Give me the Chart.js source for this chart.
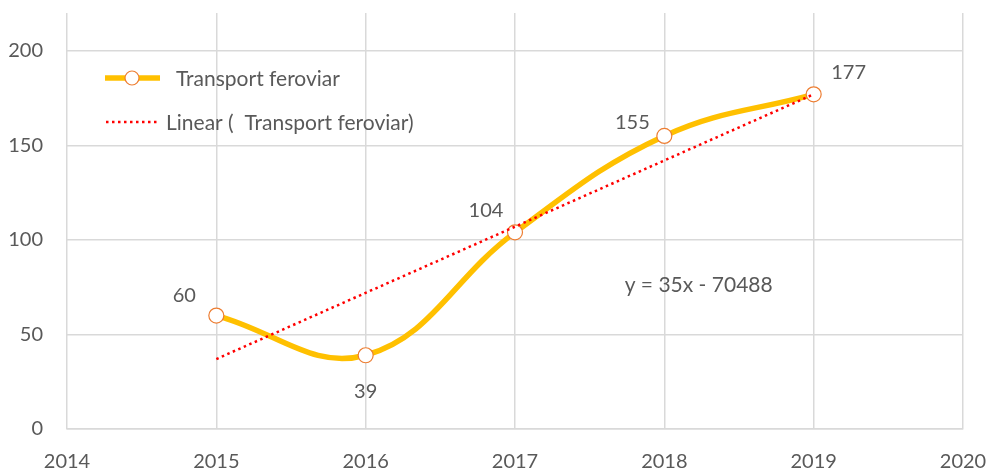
<!DOCTYPE html>
<html>
<head>
<meta charset="utf-8">
<script src="https://cdn.jsdelivr.net/npm/chart.js@4.4.0/dist/chart.umd.min.js"></script>
<style>
  html, body { margin: 0; padding: 0; background: #fff; }
  #wrap { width: 992px; height: 474px; }
</style>
</head>
<body>
<div id="wrap"><canvas id="c" width="992" height="474"></canvas></div>
<script>
const YEARS = [2015, 2016, 2017, 2018, 2019];
const VALUES = [60, 39, 104, 155, 177];
const SERIES_NAME = 'Transport feroviar';
const TREND_NAME = 'Linear (  Transport feroviar)';
const TREND_SLOPE = 35;
const TREND_INTERCEPT = -70488;
const EQUATION = 'y = 35x - 70488';
// label offsets in px from each point (Excel placed them by hand)
const LABEL_OFFSETS = [[-32, -20], [0, 36], [-29, -22], [-32, -13], [35, -22]];

const FONT = 'Lato, "Open Sans", sans-serif';
const TEXT = '#595959';
const GRID = '#d9d9d9';

const pts = YEARS.map((x, i) => ({ x, y: VALUES[i] }));
const first = YEARS[0], last = YEARS[YEARS.length - 1];
const trend = [first, last].map(x => ({ x, y: TREND_SLOPE * x + TREND_INTERCEPT }));

const extras = {
    id: 'extras',
    afterDatasetsDraw(chart) {
        const { ctx: c, scales: { x, y } } = chart;
        c.save();
        c.font = '20px ' + FONT;
        c.fillStyle = TEXT;
        c.textAlign = 'center';
        c.textBaseline = 'middle';
        pts.forEach((p, i) => {
            const [dx, dy] = LABEL_OFFSETS[i];
            c.fillText(String(p.y), x.getPixelForValue(p.x) + dx, y.getPixelForValue(p.y) + dy);
        });
        // trendline equation
        c.font = '21px ' + FONT;
        c.fillText(EQUATION, x.getPixelForValue(2018.23), y.getPixelForValue(76));

        // legend, drawn inside the plot like Excel does
        c.textAlign = 'left';
        c.lineCap = 'butt';
        c.strokeStyle = '#ffc000';
        c.lineWidth = 5.5;
        c.beginPath(); c.moveTo(105, 78); c.lineTo(160, 78); c.stroke();
        c.fillStyle = '#fff';
        c.strokeStyle = '#ed7d31';
        c.lineWidth = 1.2;
        c.beginPath(); c.arc(132, 78, 7, 0, Math.PI * 2); c.fill(); c.stroke();
        c.fillStyle = TEXT;
        c.fillText(SERIES_NAME, 176, 79);

        c.strokeStyle = '#ff0000';
        c.lineWidth = 2.5;
        c.setLineDash([2.5, 3.5]);
        c.beginPath(); c.moveTo(106, 122); c.lineTo(160, 122); c.stroke();
        c.setLineDash([]);
        c.fillText(TREND_NAME, 166, 123);
        c.restore();
    }
};

new Chart(document.getElementById('c'), {
    type: 'scatter',
    data: {
        datasets: [{
            label: TREND_NAME,
            data: trend,
            showLine: true,
            borderColor: '#ff0000',
            borderWidth: 2.5,
            borderDash: [2.5, 3.5],
            pointRadius: 0,
            order: 1,
        }, {
            label: SERIES_NAME,
            data: pts,
            showLine: true,
            borderColor: '#ffc000',
            borderWidth: 5.5,
            tension: 0.4,
            pointRadius: 7.5,
            pointBorderWidth: 1.2,
            pointBackgroundColor: '#ffffff',
            pointBorderColor: '#ed7d31',
            order: 2,
        }]
    },
    options: {
        responsive: false,
        animation: false,
        layout: { padding: { top: 13, right: 29, left: 0, bottom: 0 } },
        plugins: {
            legend: { display: false },
            tooltip: { enabled: false }
        },
        scales: {
            x: {
                type: 'linear',
                min: 2014,
                max: 2020,
                ticks: {
                    stepSize: 1,
                    color: TEXT,
                    font: { family: FONT, size: 20 },
                    padding: 21,
                    callback: v => String(v),
                },
                grid: { color: GRID, lineWidth: 1.5, drawTicks: false },
                border: { color: GRID, width: 1.5 },
                afterFit: s => {
                    s.height = 45;
                    s.paddingLeft = 0;
                    s.paddingRight = 0;
                },
            },
            y: {
                min: 0,
                max: 220,
                afterBuildTicks: axis => {
                    axis.ticks = axis.ticks.filter(t => t.value % 50 === 0);
                },
                ticks: {
                    stepSize: 50,
                    color: TEXT,
                    font: { family: FONT, size: 20 },
                    padding: 24,
                },
                grid: { color: GRID, lineWidth: 1.5, drawTicks: false },
                border: { display: false },
                afterFit: s => {
                    s.width = 67;
                    s.paddingTop = 0;
                    s.paddingBottom = 0;
                },
            }
        }
    },
    plugins: [extras]
});
</script>
</body>
</html>
